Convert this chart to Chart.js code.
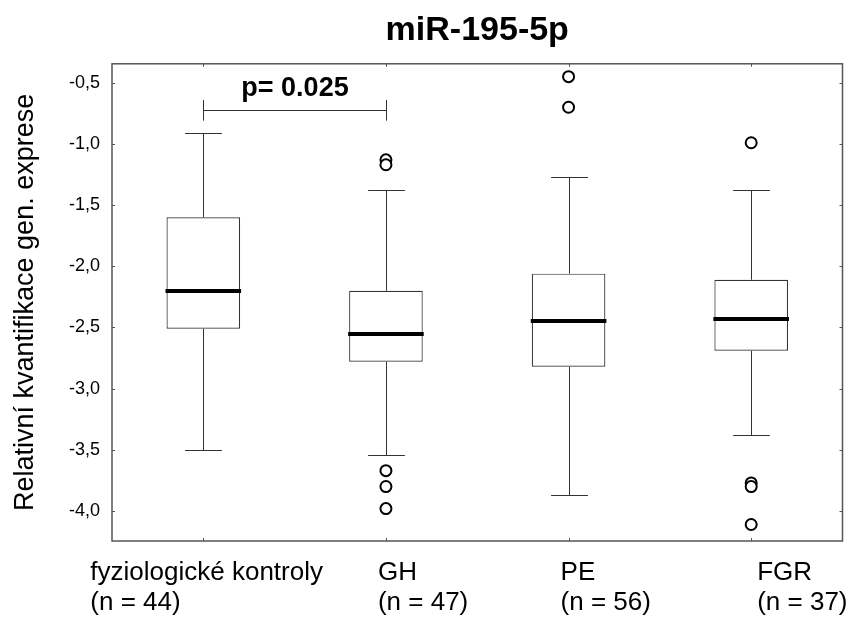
<!DOCTYPE html>
<html>
<head>
<meta charset="utf-8">
<script src="https://cdn.jsdelivr.net/npm/chart.js@4/dist/chart.umd.min.js"></script>
<style>
  html, body { margin: 0; padding: 0; background: #fff; }
  #wrap { width: 850px; height: 619px; }
</style>
</head>
<body>
<div id="wrap"><canvas id="chart"></canvas></div>
<script>
// box plot values
const groups = ["fyziologické kontroly", "GH", "PE", "FGR"];
const counts = [44, 47, 56, 37];
const whiskerHigh = [-0.91, -1.38, -1.27, -1.38];
const q3 = [-1.60, -2.20, -2.06, -2.11];
const median = [-2.20, -2.55, -2.45, -2.43];
const q1 = [-2.51, -2.78, -2.82, -2.69];
const whiskerLow = [-3.50, -3.54, -3.87, -3.38];
const outliers = [
  [],
  [-1.13, -1.17, -3.67, -3.80, -3.98],
  [-0.45, -0.70],
  [-0.99, -3.77, -3.80, -4.11]
];
const yTicks = [-4.0, -3.5, -3.0, -2.5, -2.0, -1.5, -1.0, -0.5];

// significance bracket between first two groups
const sigPair = [0, 1];
const sigText = "p= 0.025";
const sigLine = -0.72;
const sigTickTop = -0.64;
const sigTickBottom = -0.81;
const sigTextBase = -0.61;

// layout of the two-line category labels (px shift of the left edge from the box centre)
const xLabelShift = [-113, -8, -8, 6];

const FONT = "'Liberation Sans', Arial, Helvetica, sans-serif";
Chart.defaults.font.family = FONT;
Chart.defaults.color = "#000";

const crisp = v => Math.round(v) + 0.5;

const boxPlotExtras = {
  id: "boxPlotExtras",
  afterDatasetsDraw(chart) {
    const { ctx, chartArea: a, scales: { x, y } } = chart;
    const bars = chart.getDatasetMeta(0).data;
    ctx.save();

    // whiskers and caps
    ctx.strokeStyle = "#333";
    ctx.lineWidth = 1;
    groups.forEach((g, i) => {
      const cx = crisp(x.getPixelForValue(i));
      const cap = bars[i].width / 4;
      const hi = crisp(y.getPixelForValue(whiskerHigh[i]));
      const lo = crisp(y.getPixelForValue(whiskerLow[i]));
      const top = y.getPixelForValue(q3[i]);
      const bot = y.getPixelForValue(q1[i]);
      ctx.beginPath();
      ctx.moveTo(cx, top); ctx.lineTo(cx, hi);
      ctx.moveTo(cx - cap, hi); ctx.lineTo(cx + cap, hi);
      ctx.moveTo(cx, bot); ctx.lineTo(cx, lo);
      ctx.moveTo(cx - cap, lo); ctx.lineTo(cx + cap, lo);
      ctx.stroke();
    });

    // medians
    ctx.strokeStyle = "#000";
    ctx.lineWidth = 4;
    groups.forEach((g, i) => {
      const cx = x.getPixelForValue(i);
      const half = bars[i].width / 2 + 1;
      const my = Math.round(y.getPixelForValue(median[i]));
      ctx.beginPath();
      ctx.moveTo(cx - half, my); ctx.lineTo(cx + half, my);
      ctx.stroke();
    });

    // frame with inward ticks on all four sides
    ctx.strokeStyle = "#555";
    ctx.lineWidth = 1.5;
    ctx.strokeRect(a.left, a.top, a.right - a.left, a.bottom - a.top);
    ctx.lineWidth = 1;
    ctx.beginPath();
    yTicks.forEach(v => {
      const py = crisp(y.getPixelForValue(v));
      ctx.moveTo(a.left, py); ctx.lineTo(a.left + 3, py);
      ctx.moveTo(a.right, py); ctx.lineTo(a.right - 3, py);
    });
    groups.forEach((g, i) => {
      const px = crisp(x.getPixelForValue(i));
      ctx.moveTo(px, a.top); ctx.lineTo(px, a.top + 3);
      ctx.moveTo(px, a.bottom); ctx.lineTo(px, a.bottom - 3);
    });
    ctx.stroke();

    // significance bracket
    const x0 = crisp(x.getPixelForValue(sigPair[0]));
    const x1 = crisp(x.getPixelForValue(sigPair[1]));
    const ly = crisp(y.getPixelForValue(sigLine));
    ctx.strokeStyle = "#333";
    ctx.beginPath();
    ctx.moveTo(x0, ly); ctx.lineTo(x1, ly);
    ctx.moveTo(x0, y.getPixelForValue(sigTickTop)); ctx.lineTo(x0, y.getPixelForValue(sigTickBottom));
    ctx.moveTo(x1, y.getPixelForValue(sigTickTop)); ctx.lineTo(x1, y.getPixelForValue(sigTickBottom));
    ctx.stroke();
    ctx.fillStyle = "#000";
    ctx.font = "bold 27px " + FONT;
    ctx.textAlign = "center";
    ctx.textBaseline = "alphabetic";
    ctx.fillText(sigText, (x0 + x1) / 2, y.getPixelForValue(sigTextBase));

    // category labels, two lines, left aligned
    ctx.font = "26px " + FONT;
    ctx.textAlign = "left";
    groups.forEach((g, i) => {
      const lx = x.getPixelForValue(i) + xLabelShift[i];
      ctx.fillText(g, lx, a.bottom + 39);
      ctx.fillText("(n = " + counts[i] + ")", lx, a.bottom + 69);
    });

    ctx.restore();
  }
};

const outlierPoints = outliers.flatMap((arr, i) => arr.map(v => ({ x: groups[i], y: v })));

new Chart(document.getElementById("chart"), {
  type: "bar",
  data: {
    labels: groups,
    datasets: [
      {
        type: "bar",
        data: groups.map((g, i) => [q1[i], q3[i]]),
        backgroundColor: "#fff",
        borderColor: "#333",
        borderWidth: 1.2,
        borderSkipped: false,
        barPercentage: 0.403,
        categoryPercentage: 1
      },
      {
        type: "line",
        data: outlierPoints,
        showLine: false,
        pointRadius: 5.5,
        pointBorderWidth: 2,
        pointBackgroundColor: "#fff",
        pointBorderColor: "#000"
      }
    ]
  },
  options: {
    responsive: true,
    maintainAspectRatio: false,
    animation: false,
    layout: { padding: { top: 0, right: 7, bottom: 0, left: 0 } },
    plugins: {
      legend: { display: false },
      tooltip: { enabled: false },
      title: {
        display: true,
        text: "miR-195-5p",
        fullSize: false,
        color: "#000",
        font: { size: 34, weight: "bold" },
        padding: { top: 10, bottom: 13 }
      }
    },
    scales: {
      x: {
        grid: { display: false, drawTicks: false },
        border: { display: false },
        ticks: { display: false },
        afterFit: s => { s.height = 78; }
      },
      y: {
        min: -4.245,
        max: -0.345,
        grid: { display: false, drawTicks: false },
        border: { display: false },
        afterBuildTicks: axis => { axis.ticks = yTicks.map(v => ({ value: v })); },
        ticks: {
          padding: 12,
          font: { size: 18 },
          callback: v => v.toFixed(1).replace(".", ",")
        },
        title: {
          display: true,
          text: "Relativní kvantifikace gen. exprese",
          font: { size: 27 },
          padding: { top: 9, bottom: 0 }
        },
        afterFit: s => { s.width = 112; }
      }
    }
  },
  plugins: [boxPlotExtras]
});
</script>
</body>
</html>
